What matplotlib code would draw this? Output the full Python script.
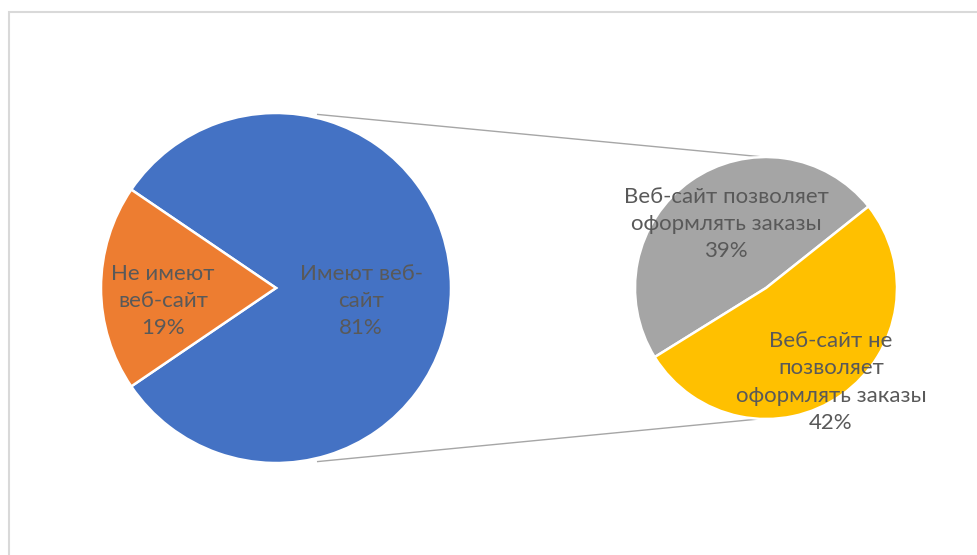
import matplotlib
matplotlib.use("Agg")
import matplotlib.pyplot as plt
from matplotlib.patches import Rectangle
import numpy as np

# ---- data ----
main_labels = ["Имеют веб-\nсайт", "Не имеют\nвеб-сайт"]
main_values = [81, 19]
main_colors = ["#4472C4", "#ED7D31"]

sub_labels = ["Веб-сайт позволяет\nоформлять заказы", "Веб-сайт не\nпозволяет\nоформлять заказы"]
sub_values = [39, 42]
sub_colors = ["#A5A5A5", "#FFC000"]

W, H = 977, 555
fig = plt.figure(figsize=(W / 100, H / 100), dpi=100)
ax = fig.add_axes([0, 0, 1, 1])

FONT = ["Lato", "DejaVu Sans"]
TXT = "#595959"

# chart frame
fig.patches.append(Rectangle((8.5 / W, 0 - 0.1), 1.2, (H - 11.5) / H + 0.1,
                             transform=fig.transFigure, fill=False,
                             edgecolor="#D9D9D9", linewidth=1.5))

# main pie
mc = (276, H - 288)
mr = 175
start_main = 180 + main_values[1] / sum(main_values) * 360 / 2
ax.pie(main_values, colors=main_colors, startangle=start_main, counterclock=True,
       center=mc, radius=mr, frame=True,
       wedgeprops=dict(edgecolor="white", linewidth=1.8))

# secondary pie
sc = (766, H - 288)
sr = 131
ax.pie(sub_values, colors=sub_colors, startangle=38.5, counterclock=True,
       center=sc, radius=sr, frame=True,
       wedgeprops=dict(edgecolor="white", linewidth=1.8))
ax.set_xlim(0, W)
ax.set_ylim(0, H)
ax.set_aspect("equal")
ax.axis("off")

# connector lines
for a_m, a_s in [(76.5, 91.0), (-76.5, -92.5)]:
    p1 = (mc[0] + mr * 1.02 * np.cos(np.radians(a_m)), mc[1] + mr * 1.02 * np.sin(np.radians(a_m)))
    p2 = (sc[0] + sr * np.cos(np.radians(a_s)), sc[1] + sr * np.sin(np.radians(a_s)))
    ax.plot([p1[0], p2[0]], [p1[1], p2[1]], color="#A6A6A6", linewidth=1.0, zorder=0)

fs = 16
def lab(x, y, label, val):
    ax.text(x, H - y, f"{label}\n{val}%", ha="center", va="center", fontsize=fs,
            color=TXT, family=FONT, linespacing=1.45, zorder=5)

lab(361, 301, main_labels[0], main_values[0])
lab(163, 301, main_labels[1], main_values[1])
lab(726, 224, sub_labels[0], sub_values[0])
lab(831, 382, sub_labels[1], sub_values[1])

fig.savefig("out.png", dpi=100, facecolor="white")
